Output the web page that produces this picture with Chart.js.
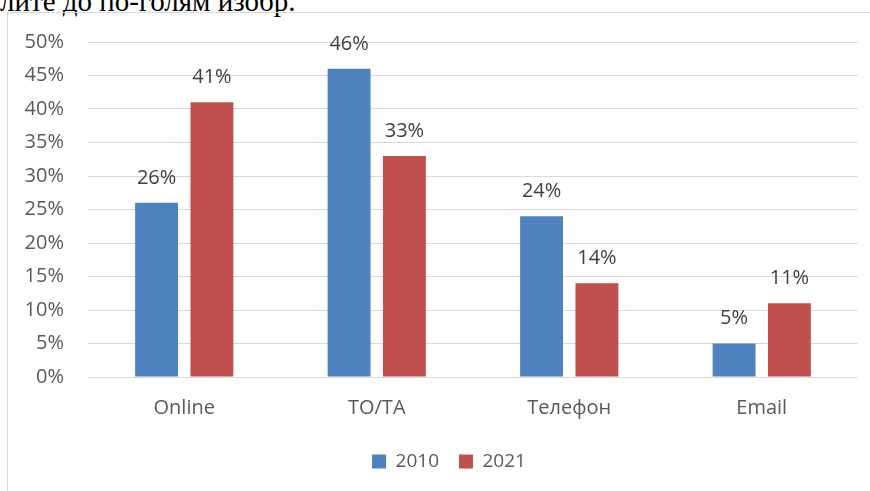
<!DOCTYPE html>
<html>
<head>
<meta charset="utf-8">
<script src="https://cdn.jsdelivr.net/npm/chart.js@4/dist/chart.umd.min.js"></script>
<style>
  html, body { margin: 0; padding: 0; background: #fff; overflow: hidden; }
  #caption {
    position: absolute; left: 0; top: -15px;
    font: 29px "Liberation Serif", "DejaVu Serif", serif; color: #000;
    white-space: nowrap;
  }
  #frame {
    position: absolute; left: 7px; top: 12px; width: 900px; height: 520px;
    border-left: 1px solid #d9d9d9; border-top: 1px solid #d9d9d9;
  }
  #wrap { position: absolute; left: 8px; top: 6px; width: 862px; height: 485px; }
</style>
</head>
<body>
<div id="caption">лите до по-голям изобр.</div>
<div id="frame"></div>
<div id="wrap"><canvas id="chart"></canvas></div>
<script>
const categories = ['Online', 'ТО/ТА', 'Телефон', 'Email'];
const seriesNames = ['2010', '2021'];
const values2010 = [26, 46, 24, 5];
const values2021 = [41, 33, 14, 11];
const yTicks = [0, 5, 10, 15, 20, 25, 30, 35, 40, 45, 50];

const FONT = '"Open Sans", "Noto Sans", sans-serif';

// value labels above each bar
const barLabels = {
  id: 'barLabels',
  afterDatasetsDraw(chart) {
    const ctx = chart.ctx;
    ctx.save();
    ctx.font = '20px ' + FONT;
    ctx.fillStyle = '#404040';
    ctx.textAlign = 'center';
    ctx.textBaseline = 'middle';
    chart.data.datasets.forEach((ds, i) => {
      chart.getDatasetMeta(i).data.forEach((bar, j) => {
        ctx.fillText(ds.data[j] + '%', bar.x, bar.y - 25);
      });
    });
    ctx.restore();
  }
};

// nudge the legend right, under the middle of the bars
const legendShift = {
  id: 'legendShift',
  afterLayout(chart) {
    chart.legend.left += 32;
  }
};

new Chart(document.getElementById('chart'), {
  type: 'bar',
  data: {
    labels: categories,
    datasets: [
      { label: seriesNames[0], data: values2010, backgroundColor: '#4f81bd' },
      { label: seriesNames[1], data: values2021, backgroundColor: '#c0504d' }
    ]
  },
  options: {
    responsive: true,
    maintainAspectRatio: false,
    animation: false,
    categoryPercentage: 0.575,
    barPercentage: 0.775,
    layout: { padding: { top: 15, right: 12, left: 0, bottom: 10 } },
    plugins: {
      tooltip: { enabled: false },
      legend: {
        position: 'bottom',
        labels: {
          boxWidth: 14, boxHeight: 14, padding: 20,
          color: '#595959', font: { family: FONT, size: 19 }
        }
      }
    },
    scales: {
      x: {
        grid: { display: false, drawTicks: false },
        border: { display: false },
        ticks: { color: '#595959', font: { family: FONT, size: 20 }, padding: 19 },
        afterFit(scale) { scale.height = 55; }
      },
      y: {
        min: 0, max: 50,
        afterBuildTicks(scale) { scale.ticks = yTicks.map(v => ({ value: v })); },
        grid: { color: '#d9d9d9', lineWidth: 1, drawTicks: false },
        border: { display: false },
        ticks: {
          color: '#595959', font: { family: FONT, size: 20 }, padding: 24,
          callback: v => v + '%'
        },
        afterFit(scale) { scale.width = 80; }
      }
    }
  },
  plugins: [barLabels, legendShift]
});
</script>
</body>
</html>
